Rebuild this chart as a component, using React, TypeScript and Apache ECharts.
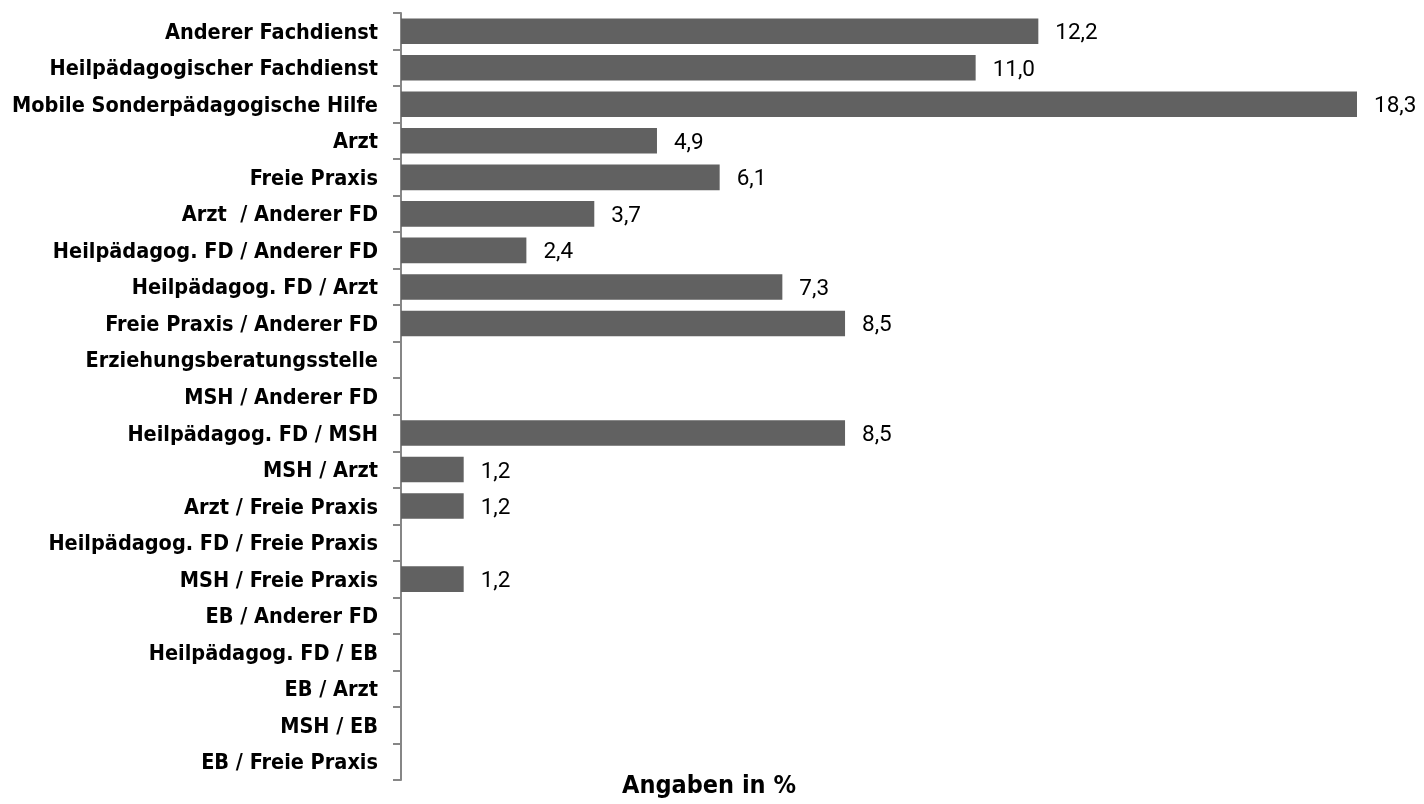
import React, { useEffect, useRef } from "react";
import * as echarts from "echarts";

const categories = [
  "Anderer Fachdienst",
  "Heilpädagogischer Fachdienst",
  "Mobile Sonderpädagogische Hilfe",
  "Arzt",
  "Freie Praxis",
  "Arzt  / Anderer FD",
  "Heilpädagog. FD / Anderer FD",
  "Heilpädagog. FD / Arzt",
  "Freie Praxis / Anderer FD",
  "Erziehungsberatungsstelle",
  "MSH / Anderer FD",
  "Heilpädagog. FD / MSH",
  "MSH / Arzt",
  "Arzt / Freie Praxis",
  "Heilpädagog. FD / Freie Praxis",
  "MSH / Freie Praxis",
  "EB / Anderer FD",
  "Heilpädagog. FD / EB",
  "EB / Arzt",
  "MSH / EB",
  "EB / Freie Praxis",
];

const values: (number | null)[] = [
  12.2, 11.0, 18.3, 4.9, 6.1, 3.7, 2.4, 7.3, 8.5, null, null, 8.5, 1.2, 1.2,
  null, 1.2, null, null, null, null, null,
];

const axisTitle = "Angaben in %";

export default function App() {
  const ref = useRef<HTMLDivElement>(null);
  useEffect(() => {
    if (!ref.current) return;
    const chart = echarts.init(ref.current, undefined, { renderer: "svg" });
    chart.setOption({
      animation: false,
      grid: { left: 401, top: 13, width: 956, bottom: 24, containLabel: false },
      title: {
        text: axisTitle,
        left: 622,
        top: 772,
        padding: 0,
        textStyle: {
          fontFamily: "DejaVu Sans Condensed",
          fontWeight: "bold",
          fontSize: 25,
          color: "#000",
        },
      },
      xAxis: {
        type: "value",
        min: 0,
        max: 18.3,
        show: false,
      },
      yAxis: {
        type: "category",
        data: categories,
        inverse: true,
        axisLine: { show: true, lineStyle: { color: "#868686", width: 2 } },
        axisTick: { show: true, length: 8, lineStyle: { color: "#868686", width: 2 } },
        axisLabel: {
          margin: 23,
          color: "#000",
          fontFamily: "DejaVu Sans Condensed",
          fontWeight: "bold",
          fontSize: 21.5,
        },
        splitLine: { show: false },
      },
      series: [
        {
          type: "bar",
          data: values,
          barCategoryGap: "30%",
          itemStyle: { color: "#616161" },
          label: {
            show: true,
            position: "right",
            distance: 17,
            color: "#000",
            fontFamily: "Roboto",
            fontSize: 22.5,
            formatter: (p: any) =>
              p.value == null ? "" : Number(p.value).toFixed(1).replace(".", ","),
          },
        },
      ],
    });
    return () => chart.dispose();
  }, []);
  return (
    <div
      ref={ref}
      style={{ position: "fixed", left: 0, top: 0, width: 1424, height: 804 }}
    />
  );
}
